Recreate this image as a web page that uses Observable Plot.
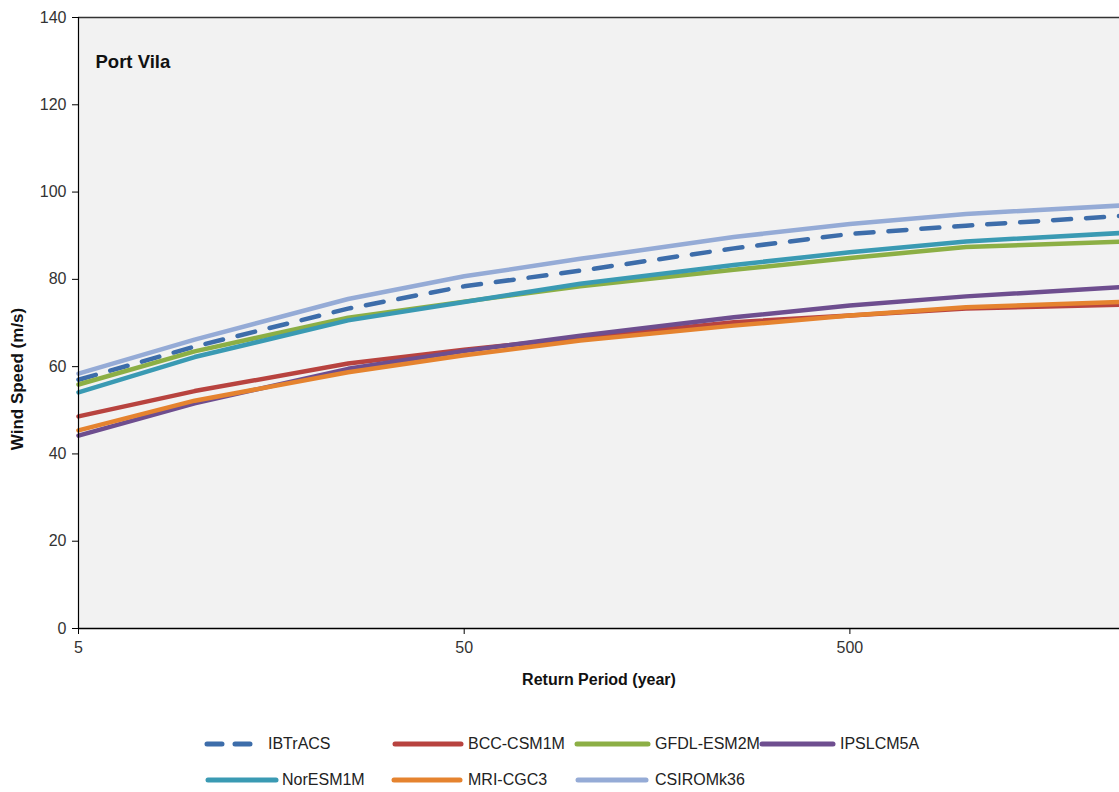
<!DOCTYPE html>
<html>
<head>
<meta charset="utf-8">
<script src="https://cdn.jsdelivr.net/npm/d3@7"></script>
<script src="https://cdn.jsdelivr.net/npm/@observablehq/plot@0.6"></script>
<style>
  body { margin: 0; background: #fff; }
  #wrap { position: relative; width: 1119px; height: 792px; overflow: hidden; }
  #legend { position: absolute; left: 0; top: 0; width: 1119px; height: 792px; pointer-events: none; }
  .sw { position: absolute; }
  .lt { position: absolute; font-family: "Liberation Sans", Arial, sans-serif; font-size: 16px; color: #222; white-space: nowrap; line-height: 20px; }
</style>
</head>
<body>
<div id="wrap"><div id="chart"></div><div id="legend"></div></div>
<script>
// Return periods (years)
const periods = [5, 10, 25, 50, 100, 250, 500, 1000, 2500];

// Wind speed (m/s) per model
const seriesNames = ["IBTrACS", "BCC-CSM1M", "GFDL-ESM2M", "IPSLCM5A", "NorESM1M", "MRI-CGC3", "CSIROMk36"];
const IBTrACS   = [57.0, 64.6, 73.3, 78.4, 82.0, 87.1, 90.4, 92.3, 94.5];
const BCC       = [48.6, 54.4, 60.7, 63.9, 66.6, 70.2, 71.7, 73.3, 74.2];
const GFDL      = [55.9, 63.5, 71.2, 74.9, 78.4, 82.2, 84.9, 87.4, 88.6];
const IPSL      = [44.2, 51.6, 59.5, 63.6, 67.1, 71.3, 74.0, 76.1, 78.2];
const NorESM    = [54.1, 62.2, 70.6, 74.8, 79.0, 83.3, 86.2, 88.7, 90.6];
const MRI       = [45.4, 52.2, 58.7, 62.6, 66.0, 69.4, 71.7, 73.6, 74.8];
const CSIRO     = [58.4, 66.2, 75.5, 80.7, 84.7, 89.7, 92.7, 95.0, 96.9];
const seriesValues = [IBTrACS, BCC, GFDL, IPSL, NorESM, MRI, CSIRO];

const colors = ["#3D6DAA", "#B8433F", "#8CAF45", "#6E4E8F", "#3A9AB3", "#E5832F", "#95ABD6"];

const yTicks = [0, 20, 40, 60, 80, 100, 120, 140];
const xTicks = [5, 50, 500];

const data = seriesNames.flatMap((name, i) =>
  periods.map((p, j) => ({series: name, period: p, value: seriesValues[i][j]}))
);

const regular = '"Liberation Sans", Arial, sans-serif';

const chart = Plot.plot({
  width: 1119,
  height: 700,
  marginLeft: 78,
  marginRight: 0,
  marginTop: 17,
  marginBottom: 72,
  style: {fontFamily: regular, background: "transparent", overflow: "visible"},
  x: {type: "log", domain: [5, 2500], label: null},
  y: {domain: [0, 140], label: null},
  color: {domain: seriesNames, range: colors},
  marks: [
    Plot.frame({fill: "#F2F2F2", stroke: "none"}),
    Plot.ruleY([140], {stroke: "#333", strokeWidth: 1.5}),
    Plot.line(data.filter(d => d.series === "IBTrACS"), {
      x: "period", y: "value", stroke: "series", strokeWidth: 4.5,
      strokeDasharray: "18,15", strokeLinecap: "round"
    }),
    ...seriesNames.slice(1).map(name =>
      Plot.line(data.filter(d => d.series === name), {
        x: "period", y: "value", stroke: "series", strokeWidth: 4.5, strokeLinejoin: "round"
      })
    ),
    Plot.ruleX([5], {stroke: "#000", strokeWidth: 1.2}),
    Plot.ruleY([0], {stroke: "#000", strokeWidth: 1.5}),
    Plot.axisY({ticks: yTicks, tickSize: 6, tickPadding: 6, fontSize: 16, fill: "#333", stroke: "#000", label: null}),
    Plot.axisX({ticks: xTicks, tickSize: 6, tickFormat: () => "", stroke: "#000", label: null}),
    Plot.text(xTicks, {x: d => d, frameAnchor: "bottom", dy: 24, text: d => String(d), fontSize: 16, fill: "#333"}),
    Plot.text(["Port Vila"], {frameAnchor: "top-left", dx: 17, dy: 37, fontSize: 18.5, fontWeight: "bold", fill: "#111", textAnchor: "start"}),
    Plot.text(["Return Period (year)"], {frameAnchor: "bottom", dy: 56, fontSize: 16, fontWeight: "bold", fill: "#111"}),
    Plot.text(["Wind Speed (m/s)"], {frameAnchor: "left", dx: -61, dy: 56, rotate: -90, textAnchor: "middle", fontSize: 17, fontWeight: "bold", fill: "#111"})
  ]
});
document.getElementById("chart").appendChild(chart);

// Legend layout (HTML, below the SVG): [swatch start, swatch end, text start, row center y]
const legendPos = [
  [207, 250, 268, 744], [395, 461, 468, 744], [577, 648, 655, 744], [762, 833, 840, 744],
  [208, 276, 282, 780], [394, 460, 468, 780], [578, 646, 655, 780]
];
const legend = document.getElementById("legend");
seriesNames.forEach((name, i) => {
  const [sx, ex, tx, cy] = legendPos[i];
  const dashed = name === "IBTrACS";
  const svg = d3.create("svg").attr("class", "sw")
    .attr("width", ex - sx + 6).attr("height", 12)
    .style("left", (sx - 3) + "px").style("top", (cy - 6) + "px");
  svg.append("line")
    .attr("x1", 3).attr("x2", ex - sx + 3).attr("y1", 6).attr("y2", 6)
    .attr("stroke", colors[i]).attr("stroke-width", 5)
    .attr("stroke-linecap", "round")
    .attr("stroke-dasharray", dashed ? "15,13" : null);
  legend.appendChild(svg.node());
  const span = document.createElement("div");
  span.className = "lt";
  span.textContent = name;
  span.style.left = tx + "px";
  span.style.top = (cy - 10) + "px";
  legend.appendChild(span);
});
</script>
</body>
</html>
